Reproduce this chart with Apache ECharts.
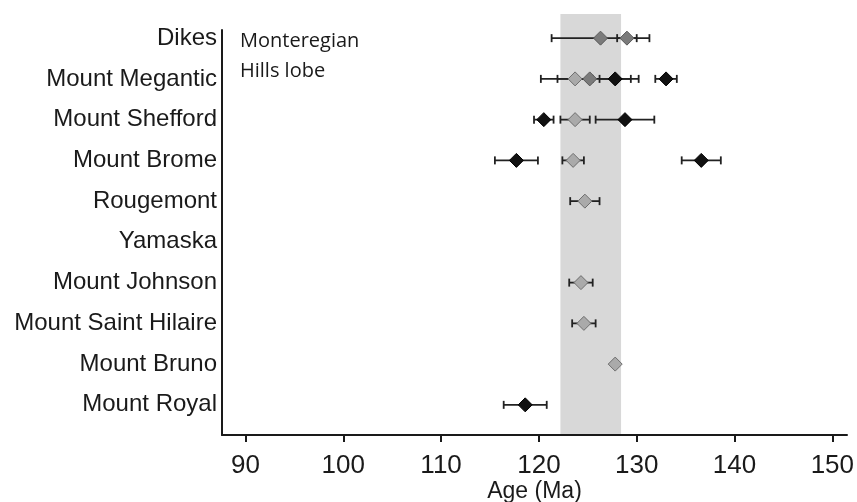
<!DOCTYPE html>
<html>
<head>
<meta charset="utf-8">
<style>
  html, body { margin: 0; padding: 0; background: #ffffff; }
  #chart { width: 857px; height: 502px; }
</style>
<script src="https://cdn.jsdelivr.net/npm/echarts@6/dist/echarts.min.js"></script>
</head>
<body>
<div id="chart"></div>
<script>
// Intrusion sites, listed top to bottom
const sites = ['Dikes', 'Mount Megantic', 'Mount Shefford', 'Mount Brome', 'Rougemont',
  'Yamaska', 'Mount Johnson', 'Mount Saint Hilaire', 'Mount Bruno', 'Mount Royal'];

// Age axis tick labels (Ma)
const ageTicks = [90, 100, 110, 120, 130, 140, 150];

// Dated samples: site row, age (Ma), 2-sigma error (Ma), marker style
const pointSite = [0, 0, 1, 1, 1, 1, 2, 2, 2, 3, 3, 3, 4, 6, 7, 8, 9];
const pointAge  = [126.3, 129.0, 123.7, 125.2, 127.8, 133.0, 120.5, 123.7, 128.8,
                   117.7, 123.5, 136.6, 124.7, 124.3, 124.6, 127.8, 118.6];
const pointErr  = [5.0, 1.0, 1.8, 5.0, 1.6, 1.1, 1.0, 1.5, 3.0,
                   2.2, 1.1, 2.0, 1.5, 1.2, 1.2, 0, 2.2];
const pointKind = ['mid', 'mid', 'light', 'mid', 'dark', 'dark', 'dark', 'light', 'dark',
                   'dark', 'light', 'dark', 'light', 'light', 'light', 'light', 'dark'];

// Main magmatic pulse (Ma)
const bandAge = [122.2, 128.4];

const AGE_MIN = 87.6, AGE_MAX = 151.5;
const ROW_MIN = -0.2, ROW_MAX = 9.74;

const kindStyle = {
  light: { color: '#aaaaaa', borderColor: '#6e6e6e' },
  mid:   { color: '#7b7b7b', borderColor: '#5a5a5a' },
  dark:  { color: '#111111', borderColor: '#000000' }
};

const errData = pointAge.map((a, i) => [a - pointErr[i], a + pointErr[i], pointSite[i]]);

function diamondSeries(kind) {
  const data = [];
  pointAge.forEach((a, i) => { if (pointKind[i] === kind) data.push([a, pointSite[i]]); });
  return {
    type: 'scatter',
    xAxisIndex: 1, yAxisIndex: 1,
    symbol: 'diamond',
    symbolSize: [14, 14],
    itemStyle: { color: kindStyle[kind].color, borderColor: kindStyle[kind].borderColor, borderWidth: 1, opacity: 1 },
    z: 4,
    silent: true,
    data: data
  };
}

const chart = echarts.init(document.getElementById('chart'), null, { renderer: 'canvas' });

chart.setOption({
  animation: false,
  backgroundColor: '#ffffff',
  grid: [
    { left: 222, right: 10, top: 14, bottom: 67, outerBoundsMode: 'none', containLabel: false },
    { left: 222, right: 10, top: 30, bottom: 67, outerBoundsMode: 'none', containLabel: false }
  ],
  xAxis: [
    { type: 'value', gridIndex: 0, min: AGE_MIN, max: AGE_MAX, show: false },
    {
      type: 'value', gridIndex: 1, min: AGE_MIN, max: AGE_MAX,
      name: 'Age (Ma)', nameLocation: 'middle', nameGap: 45, nameMoveOverlap: false,
      nameTextStyle: { fontFamily: 'Liberation Sans', fontSize: 23, color: '#1a1a1a' },
      axisLine: { show: true, onZero: false, lineStyle: { color: '#1a1a1a', width: 2 } },
      axisTick: { show: true, inside: false, length: 7, customValues: ageTicks, lineStyle: { color: '#1a1a1a', width: 2 } },
      axisLabel: { customValues: ageTicks, margin: 18, fontFamily: 'Liberation Sans', fontSize: 26, color: '#1a1a1a' },
      splitLine: { show: false }
    }
  ],
  yAxis: [
    { type: 'value', gridIndex: 0, min: 0, max: 1, show: false },
    {
      type: 'value', gridIndex: 1, inverse: true, min: ROW_MIN, max: ROW_MAX,
      axisLine: { show: true, onZero: false, lineStyle: { color: '#1a1a1a', width: 2 } },
      axisTick: { show: false },
      axisLabel: {
        customValues: sites.map((s, i) => i),
        formatter: (v) => sites[Math.round(v)] || '',
        margin: 5, fontFamily: 'Liberation Sans', fontSize: 24, color: '#1a1a1a'
      },
      splitLine: { show: false }
    }
  ],
  graphic: [{
    type: 'text',
    left: 240, top: 26,
    style: {
      text: 'Monteregian\nHills lobe',
      font: '20px "Open Sans"',
      lineHeight: 30,
      fill: '#1a1a1a'
    },
    z: 10
  }],
  series: [
    {
      // shaded age band
      type: 'custom',
      xAxisIndex: 0, yAxisIndex: 0,
      z: -1,
      silent: true,
      data: [bandAge],
      renderItem: function (params, api) {
        const x0 = api.coord([api.value(0), 0])[0];
        const x1 = api.coord([api.value(1), 0])[0];
        const cs = params.coordSys;
        return {
          type: 'rect',
          shape: { x: x0, y: cs.y, width: x1 - x0, height: cs.height },
          style: { fill: '#d8d8d8' }
        };
      }
    },
    {
      // horizontal error bars with end caps
      type: 'custom',
      xAxisIndex: 1, yAxisIndex: 1,
      z: 3,
      silent: true,
      encode: { x: [0, 1], y: 2 },
      data: errData,
      renderItem: function (params, api) {
        const p0 = api.coord([api.value(0), api.value(2)]);
        const p1 = api.coord([api.value(1), api.value(2)]);
        const h = 4;
        const st = { stroke: '#222222', lineWidth: 1.8 };
        return {
          type: 'group',
          children: [
            { type: 'line', shape: { x1: p0[0], y1: p0[1], x2: p1[0], y2: p1[1] }, style: st },
            { type: 'line', shape: { x1: p0[0], y1: p0[1] - h, x2: p0[0], y2: p0[1] + h }, style: st },
            { type: 'line', shape: { x1: p1[0], y1: p1[1] - h, x2: p1[0], y2: p1[1] + h }, style: st }
          ]
        };
      }
    },
    diamondSeries('light'),
    diamondSeries('mid'),
    diamondSeries('dark')
  ]
});
</script>
</body>
</html>
